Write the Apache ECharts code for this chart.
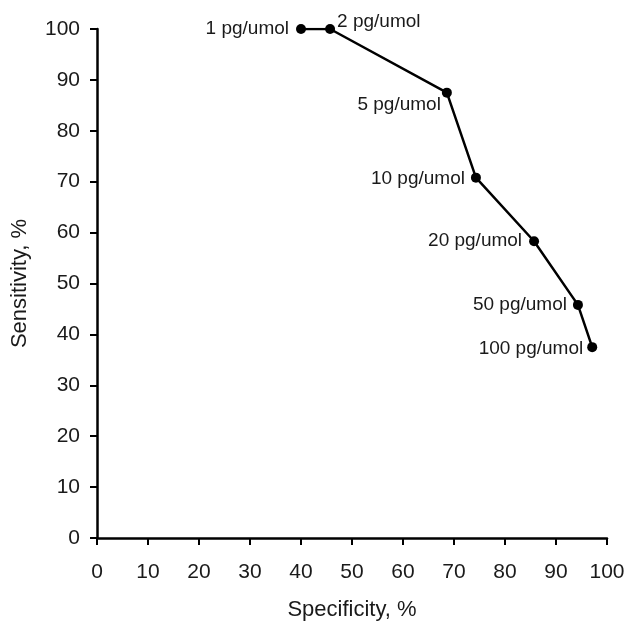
<!DOCTYPE html>
<html>
<head>
<meta charset="utf-8">
<script src="https://cdn.jsdelivr.net/npm/echarts@6/dist/echarts.min.js"></script>
<style>html,body{margin:0;padding:0;background:#fff}#c{width:629px;height:621px}</style>
</head>
<body>
<div id="c"></div>
<script>
// Data
var cutoffs = ['1 pg/umol', '2 pg/umol', '5 pg/umol', '10 pg/umol', '20 pg/umol', '50 pg/umol', '100 pg/umol'];
var specificity = [40.0, 45.7, 68.6, 74.3, 85.7, 94.3, 97.1];
var sensitivity = [100, 100, 87.5, 70.8, 58.3, 45.8, 37.5];
var xTicks = [0, 10, 20, 30, 40, 50, 60, 70, 80, 90, 100];
var yTicks = [0, 10, 20, 30, 40, 50, 60, 70, 80, 90, 100];

// Label placement (style, separate from data)
var labelPlace = [
  {position: 'left', distance: 7, offset: [0, 0]},
  {position: 'right', distance: 2, offset: [0, -7]},
  {position: 'left', distance: 1, offset: [0, 12]},
  {position: 'left', distance: 6, offset: [0, 1]},
  {position: 'left', distance: 7, offset: [0, 0]},
  {position: 'left', distance: 6, offset: [0, 0]},
  {position: 'left', distance: 4, offset: [0, 2]}
];

var FONT = 'Liberation Sans, Arial, sans-serif';
var TXT = '#1a1a1a';

var seriesData = specificity.map(function (x, i) {
  return {
    value: [x, sensitivity[i]],
    name: cutoffs[i],
    label: {
      show: true,
      formatter: cutoffs[i],
      position: labelPlace[i].position,
      distance: labelPlace[i].distance,
      offset: labelPlace[i].offset,
      color: TXT,
      fontFamily: FONT,
      fontSize: 19
    }
  };
});

var chart = echarts.init(document.getElementById('c'), null, {renderer: 'canvas'});
chart.setOption({
  animation: false,
  backgroundColor: '#fff',
  grid: {left: 97, right: 22, top: 29, bottom: 83, containLabel: false, outerBoundsMode: 'none'},
  xAxis: {
    type: 'value', min: xTicks[0], max: xTicks[xTicks.length - 1], interval: 10,
    name: 'Specificity, %', nameLocation: 'middle', nameGap: 61,
    nameTextStyle: {color: TXT, fontFamily: FONT, fontSize: 22},
    axisLine: {show: true, onZero: false, lineStyle: {color: '#000', width: 2.5}},
    axisTick: {show: true, length: 7, lineStyle: {color: '#000', width: 2}},
    axisLabel: {color: TXT, fontFamily: FONT, fontSize: 21, margin: 24},
    splitLine: {show: false}
  },
  yAxis: {
    type: 'value', min: yTicks[0], max: yTicks[yTicks.length - 1], interval: 10,
    name: 'Sensitivity, %', nameLocation: 'middle', nameGap: 66, nameRotate: 90,
    nameTextStyle: {color: TXT, fontFamily: FONT, fontSize: 22},
    axisLine: {show: true, onZero: false, lineStyle: {color: '#000', width: 2.5}},
    axisTick: {show: true, length: 7, lineStyle: {color: '#000', width: 2}},
    axisLabel: {color: TXT, fontFamily: FONT, fontSize: 21, margin: 17},
    splitLine: {show: false}
  },
  series: [{
    type: 'line',
    data: seriesData,
    symbol: 'circle',
    symbolSize: 10,
    lineStyle: {color: '#000', width: 2.5},
    itemStyle: {color: '#000'},
    z: 3
  }]
});
</script>
</body>
</html>
